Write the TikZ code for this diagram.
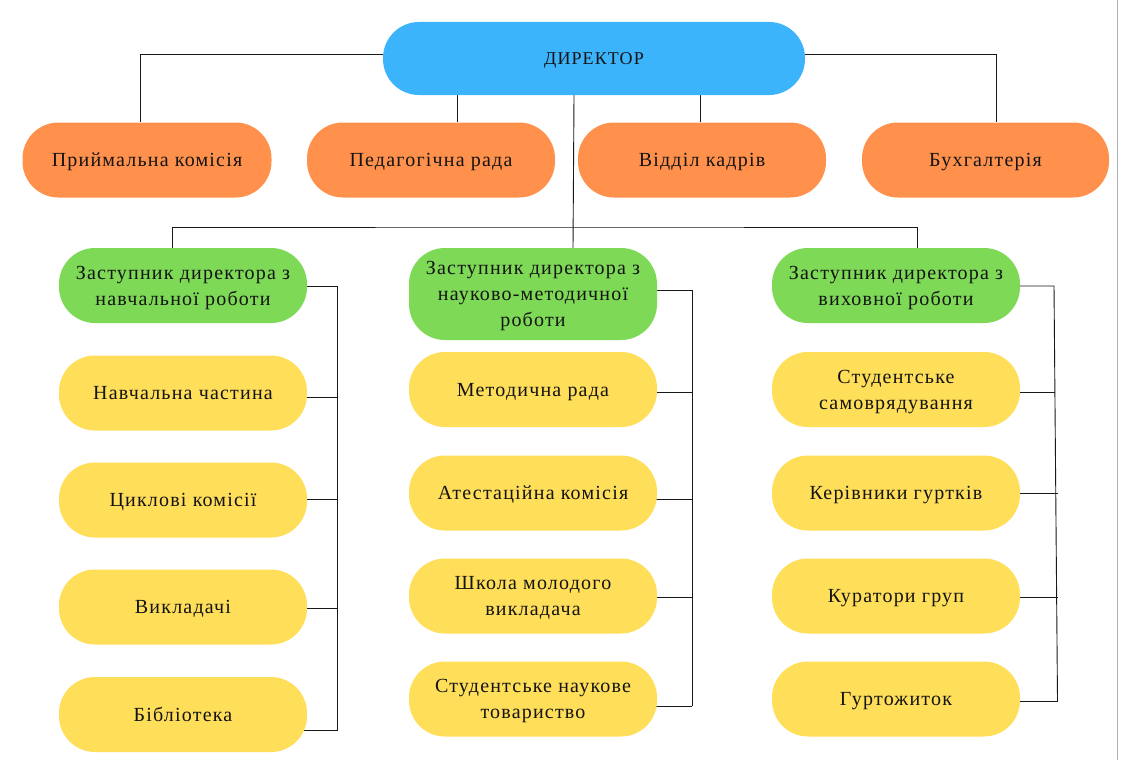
\documentclass[tikz,border=0pt]{standalone}
\usepackage{fontspec}
\setmainfont{Liberation Serif}[LetterSpace=6]
\usetikzlibrary{backgrounds}
\definecolor{cblue}{HTML}{3BB4FC}
\definecolor{corange}{HTML}{FF914D}
\definecolor{cgreen}{HTML}{7ED957}
\definecolor{cyellow}{HTML}{FFDE59}
\definecolor{ctext}{HTML}{141414}
\begin{document}
\begin{tikzpicture}[x=1pt,y=-1pt,
  pill/.style={draw=none, rounded corners=36pt, minimum width=248pt, minimum height=75pt,
    align=center, inner sep=0pt, text depth=0pt, text=ctext, font=\fontsize{20}{26}\selectfont},
  dirbox/.style={pill, fill=cblue, minimum width=422pt, minimum height=73pt, font=\fontsize{18}{24}\selectfont},
  obox/.style={pill, fill=corange},
  gbox/.style={pill, fill=cgreen},
  ybox/.style={pill, fill=cyellow},
  link/.style={draw=black!90, line width=0.9pt}]
\useasboundingbox (0,0) rectangle (1121,760);

\node[dirbox] (dir) at (594,58.5) {ДИРЕКТОР};

\node[obox, minimum width=249pt] (o1) at (147,160) {Приймальна комісія};
\node[obox] (o2) at (431,160) {Педагогічна рада};
\node[obox] (o3) at (702,160) {Відділ кадрів};
\node[obox, minimum width=247pt] (o4) at (985.5,160) {Бухгалтерія};

\node[gbox] (g1) at (183,285.5) {Заступник директора з\\навчальної роботи};
\node[gbox, minimum height=92pt] (g2) at (533,294) {Заступник директора з\\науково-методичної\\роботи};
\node[gbox] (g3) at (896,285.5) {Заступник директора з\\виховної роботи};

\node[ybox] (a1) at (183,393) {Навчальна частина};
\node[ybox] (a2) at (183,500) {Циклові комісії};
\node[ybox] (a3) at (183,607) {Викладачі};
\node[ybox] (a4) at (183,714.5) {Бібліотека};

\node[ybox] (b1) at (533,389.5) {Методична рада};
\node[ybox] (b2) at (533,493) {Атестаційна комісія};
\node[ybox] (b3) at (533,596) {Школа молодого\\викладача};
\node[ybox] (b4) at (533,699) {Студентське наукове\\товариство};

\node[ybox] (c1) at (896,389.5) {Студентське\\самоврядування};
\node[ybox] (c2) at (896,493) {Керівники гуртків};
\node[ybox] (c3) at (896,596) {Куратори груп};
\node[ybox] (c4) at (896,699) {Гуртожиток};

\coordinate (bar) at (574,227);
\coordinate (s1t) at (337.5,286);
\coordinate (s1b) at (337.5,730);
\coordinate (s2t) at (692,290);
\coordinate (s2b) at (692,706);
\coordinate (s3t) at (1054,286);
\coordinate (s3b) at (1057.5,701);

\begin{scope}[on background layer]
\fill[white] (0,0) rectangle (1121,760);
\draw[link] ([yshift=4.5pt]dir.center) -| ([xshift=-7pt]o1.north);
\draw[link] ([yshift=4.5pt]dir.center) -| ([xshift=10.5pt]o4.north);
\draw[link] ([xshift=26.5pt]o2.north) -- ([xshift=26.5pt]o2.north |- dir.south);
\draw[link] ([xshift=-2pt]o3.north) -- ([xshift=-2pt]o3.north |- dir.south);
\draw[link] ([xshift=-20pt]dir.south) -- ([xshift=40pt]g2.north);
\draw[link] ([xshift=-10.5pt]g1.north) |- (bar) -| ([xshift=21pt]g3.north);

\draw[link] ([yshift=-0.5pt]g1.center) -- (s1t) -- (s1b);
\draw[link] ([yshift=-4pt]a1.center) -- ([yshift=-4pt]a1.center -| s1t);
\draw[link] ([yshift=1pt]a2.center) -- ([yshift=1pt]a2.center -| s1t);
\draw[link] ([yshift=-1pt]a3.center) -- ([yshift=-1pt]a3.center -| s1t);
\draw[link] ([yshift=-15.5pt]a4.center) -- (s1b);

\draw[link] ([yshift=4pt]g2.center) -- (s2t) -- (s2b);
\draw[link] ([yshift=-2.5pt]b1.center) -- ([yshift=-2.5pt]b1.center -| s2t);
\draw[link] ([yshift=-6pt]b2.center) -- ([yshift=-6pt]b2.center -| s2t);
\draw[link] ([yshift=-1pt]b3.center) -- ([yshift=-1pt]b3.center -| s2t);
\draw[link] ([yshift=-7pt]b4.center) -- (s2b);

\draw[link] ([yshift=-0.5pt]g3.center) -- (s3t) -- (s3b);
\draw[link] ([yshift=-2.5pt]c1.center) -- ([yshift=-2.5pt,xshift=158.5pt]c1.center);
\draw[link] (c2.center) -- ([xshift=161.5pt]c2.center);
\draw[link] ([yshift=-1pt]c3.center) -- ([yshift=-1pt,xshift=161.5pt]c3.center);
\draw[link] ([yshift=-2pt]c4.center) -- (s3b);
\end{scope}
\draw[black!30, line width=1pt] (1117,0) -- (1117,760);
\end{tikzpicture}
\end{document}
